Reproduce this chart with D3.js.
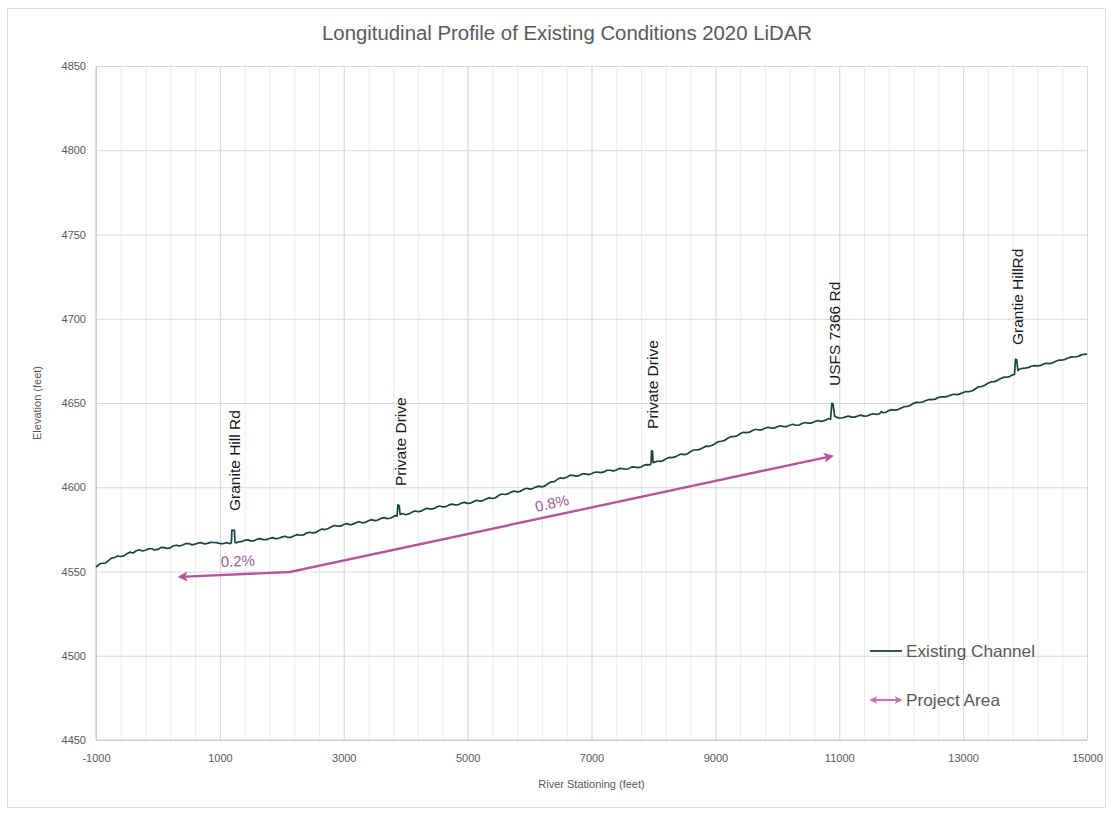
<!DOCTYPE html>
<html>
<head>
<meta charset="utf-8">
<script src="https://cdn.jsdelivr.net/npm/d3@7"></script>
<style>
  body { margin: 0; background: #ffffff; }
  svg { display: block; font-family: "Liberation Sans", Arial, sans-serif; }
</style>
</head>
<body>
<svg id="chart" width="1113" height="814"></svg>
<script>
// Existing channel thalweg profile: [river station (ft), elevation (ft)]
const profilePoints = [
  [-1000,4552.6],[-950,4554.3],[-900,4554.9],[-850,4555.0],[-800,4556.4],[-750,4557.9],[-700,4558.3],[-650,4559.2],[-600,4558.9],[-550,4559.3],
  [-500,4560.6],[-450,4561.5],[-400,4561.0],[-350,4562.3],[-300,4562.9],[-250,4562.2],[-200,4562.6],[-150,4563.5],[-100,4563.5],[-50,4562.8],
  [0,4563.1],[50,4564.3],[100,4564.2],[150,4563.7],[200,4564.0],[250,4565.3],[300,4565.6],[350,4565.1],[400,4565.7],[450,4566.6],
  [500,4566.6],[550,4565.8],[600,4566.2],[650,4566.9],[700,4567.1],[750,4566.4],[800,4566.7],[850,4567.3],[900,4567.2],[950,4567.1],
  [1000,4566.6],[1050,4566.5],[1100,4567.1],[1130,4566.9],[1160,4566.5],[1185,4567.0],[1195,4574.6],[1235,4574.4],[1245,4567.2],[1270,4567.0],
  [1300,4567.6],[1350,4567.7],[1400,4568.5],[1450,4568.8],[1500,4568.2],[1550,4568.2],[1600,4569.1],[1650,4569.5],[1700,4568.9],[1750,4568.9],
  [1800,4569.6],[1850,4570.1],[1900,4569.5],[1950,4569.7],[2000,4570.4],[2050,4570.9],[2100,4570.2],[2150,4570.3],[2200,4571.2],[2250,4571.9],
  [2300,4571.5],[2350,4571.7],[2400,4572.8],[2450,4573.3],[2500,4572.9],[2550,4573.2],[2600,4574.3],[2650,4575.2],[2700,4574.9],[2750,4575.5],
  [2800,4576.6],[2850,4577.3],[2900,4576.9],[2950,4576.9],[3000,4577.9],[3050,4578.4],[3100,4577.7],[3150,4578.1],[3200,4579.0],[3250,4579.5],
  [3300,4578.9],[3350,4579.2],[3400,4580.1],[3450,4580.8],[3500,4580.2],[3550,4580.5],[3600,4581.5],[3650,4582.0],[3700,4581.4],[3750,4581.6],
  [3800,4582.5],[3830,4583.2],[3860,4582.8],[3875,4589.5],[3895,4589.2],[3910,4583.9],[3955,4584.4],[4000,4583.7],[4050,4584.2],[4100,4585.2],
  [4150,4585.9],[4200,4585.5],[4250,4585.8],[4300,4586.9],[4350,4587.5],[4400,4587.0],[4450,4587.3],[4500,4588.3],[4550,4588.9],[4600,4588.3],
  [4650,4588.5],[4700,4589.5],[4750,4590.0],[4800,4589.5],[4850,4589.6],[4900,4590.6],[4950,4591.0],[5000,4590.4],[5050,4590.6],[5100,4591.6],
  [5150,4592.3],[5200,4591.8],[5250,4592.1],[5300,4593.1],[5350,4593.7],[5400,4593.3],[5450,4593.8],[5500,4595.1],[5550,4596.0],[5600,4595.7],
  [5650,4596.1],[5700,4597.1],[5750,4597.7],[5800,4597.3],[5850,4597.6],[5900,4598.7],[5950,4599.4],[6000,4598.9],[6050,4599.2],[6100,4600.1],
  [6150,4600.7],[6200,4600.2],[6250,4600.8],[6300,4602.2],[6350,4603.2],[6400,4603.3],[6450,4604.7],[6500,4605.6],[6550,4605.3],[6600,4605.9],
  [6650,4607.0],[6700,4607.0],[6750,4606.6],[6800,4606.9],[6850,4607.9],[6900,4607.9],[6950,4607.5],[7000,4608.0],[7050,4608.9],[7100,4609.0],
  [7150,4608.7],[7200,4609.1],[7250,4610.1],[7300,4610.1],[7350,4609.7],[7400,4610.2],[7450,4611.2],[7500,4611.1],[7550,4610.7],[7600,4611.0],
  [7650,4612.1],[7700,4611.9],[7750,4611.6],[7800,4612.0],[7850,4613.1],[7900,4613.4],[7930,4613.2],[7960,4613.8],[7970,4621.6],[7985,4621.3],
  [7995,4614.6],[8050,4615.3],[8100,4615.4],[8150,4615.7],[8200,4616.8],[8250,4617.7],[8300,4617.6],[8350,4618.0],[8400,4619.0],[8450,4619.7],
  [8500,4619.4],[8550,4619.9],[8600,4621.2],[8650,4622.1],[8700,4622.2],[8750,4622.5],[8800,4623.5],[8850,4624.4],[8900,4624.3],[8950,4624.9],
  [9000,4626.0],[9050,4627.1],[9100,4627.3],[9150,4627.8],[9200,4629.1],[9250,4630.0],[9300,4630.1],[9350,4630.5],[9400,4631.7],[9450,4632.6],
  [9500,4632.4],[9550,4632.7],[9600,4633.7],[9650,4634.4],[9700,4634.0],[9750,4634.1],[9800,4635.0],[9850,4635.6],[9900,4635.1],[9950,4635.1],
  [10000,4635.9],[10050,4636.5],[10100,4636.0],[10150,4636.0],[10200,4636.8],[10250,4637.4],[10300,4636.8],[10350,4636.9],[10400,4637.8],[10450,4638.4],
  [10500,4638.0],[10550,4638.1],[10600,4638.9],[10650,4639.6],[10700,4639.1],[10750,4639.4],[10800,4640.2],[10830,4640.8],[10860,4640.3],[10880,4649.8],
  [10900,4649.4],[10925,4642.3],[10960,4641.5],[11000,4641.2],[11050,4641.1],[11100,4641.8],[11150,4642.2],[11200,4641.6],[11250,4641.6],[11300,4642.3],
  [11350,4642.8],[11400,4642.2],[11450,4642.3],[11500,4643.1],[11550,4643.6],[11600,4643.3],[11650,4643.6],[11680,4645.0],[11700,4644.2],[11750,4644.5],
  [11800,4645.5],[11850,4646.1],[11900,4645.8],[11950,4646.1],[12000,4647.0],[12050,4647.8],[12100,4648.0],[12150,4648.7],[12200,4649.8],[12250,4650.4],
  [12300,4650.3],[12350,4650.6],[12400,4651.5],[12450,4652.1],[12500,4652.0],[12550,4652.3],[12600,4653.2],[12650,4653.7],[12700,4653.6],[12750,4653.9],
  [12800,4654.7],[12850,4655.2],[12900,4655.0],[12950,4655.4],[13000,4656.2],[13050,4656.8],[13100,4656.8],[13150,4657.3],[13200,4658.5],[13250,4659.6],
  [13300,4659.8],[13350,4660.5],[13400,4661.7],[13450,4662.5],[13500,4662.7],[13550,4663.3],[13600,4664.4],[13650,4665.2],[13700,4665.3],[13750,4665.7],
  [13800,4666.7],[13830,4666.9],[13845,4676.0],[13865,4675.6],[13885,4669.2],[13900,4669.9],[13950,4670.5],[14000,4670.7],[14050,4671.0],[14100,4671.8],
  [14150,4672.2],[14200,4672.0],[14250,4672.3],[14300,4673.2],[14350,4673.6],[14400,4673.4],[14450,4673.9],[14500,4674.8],[14550,4675.5],[14600,4675.5],
  [14650,4675.9],[14700,4676.8],[14750,4677.4],[14800,4677.3],[14850,4677.6],[14900,4678.4],[14950,4678.9],[15000,4679.0]
];

// Axis ticks
const xTicks = [-1000, 1000, 3000, 5000, 7000, 9000, 11000, 13000, 15000];
const yTicks = [4450, 4500, 4550, 4600, 4650, 4700, 4750, 4800, 4850];

// Road crossings labelled along the profile
const crossingNames = ["Granite Hill Rd", "Private Drive", "Private Drive", "USFS 7366 Rd", "Grantie HillRd"];
const crossingStations = [1228, 3908, 7977, 10915, 13870];
const crossingLabelBase = [4585.9, 4600.7, 4634.6, 4660.1, 4684.4];

// Project area extent and its design grades
const projectStations = [350, 2130, 10880];
const projectElevations = [4546.8, 4549.7, 4618.5];
const gradeLabels = ["0.2%", "0.8%"];
const gradeStations = [1290, 6360];
const gradeElevations = [4556.3, 4590.6];

const svg = d3.select("#chart");
const plot = { left: 96, right: 1087, top: 66, bottom: 740 };

const textGray = "#595959";
const channelColor = "#1b4344";
const projectColor = "#b8549e";
const gradeColor = "#a35a9c";

// Chart frame
svg.append("rect")
  .attr("x", 7.5).attr("y", 8.5)
  .attr("width", 1098).attr("height", 799)
  .attr("fill", "#ffffff")
  .attr("stroke", "#dcdcdc").attr("stroke-width", 1);

const x = d3.scaleLinear().domain([-1000, 15000]).range([plot.left, plot.right]);
const y = d3.scaleLinear().domain([4450, 4850]).range([plot.bottom, plot.top]);
const plainNumber = d => String(d);

// Minor vertical gridlines
svg.append("g")
  .attr("transform", `translate(0,${plot.bottom})`)
  .call(d3.axisBottom(x).tickValues(d3.range(-1000, 15001, 400)).tickSize(-(plot.bottom - plot.top)).tickFormat(""))
  .call(g => g.select(".domain").remove())
  .call(g => g.selectAll("line").attr("stroke", "#ececec").attr("stroke-width", 1));

// Major vertical gridlines
svg.append("g")
  .attr("transform", `translate(0,${plot.bottom})`)
  .call(d3.axisBottom(x).tickValues(xTicks).tickSize(-(plot.bottom - plot.top)).tickFormat(""))
  .call(g => g.select(".domain").remove())
  .call(g => g.selectAll("line").attr("stroke", "#d9d9d9").attr("stroke-width", 1));

// Horizontal gridlines
svg.append("g")
  .attr("transform", `translate(${plot.left},0)`)
  .call(d3.axisLeft(y).tickValues(yTicks).tickSize(-(plot.right - plot.left)).tickFormat(""))
  .call(g => g.select(".domain").remove())
  .call(g => g.selectAll("line").attr("stroke", "#d9d9d9").attr("stroke-width", 1));

// Axis lines
svg.append("line")
  .attr("x1", plot.left).attr("x2", plot.left)
  .attr("y1", plot.top).attr("y2", plot.bottom)
  .attr("stroke", "#c4c4c4").attr("stroke-width", 1);
svg.append("line")
  .attr("x1", plot.left).attr("x2", plot.right)
  .attr("y1", plot.bottom).attr("y2", plot.bottom)
  .attr("stroke", "#c4c4c4").attr("stroke-width", 1);

// Tick labels
svg.append("g")
  .attr("transform", `translate(${plot.left},0)`)
  .call(d3.axisLeft(y).tickValues(yTicks).tickSize(0).tickPadding(10).tickFormat(plainNumber))
  .call(g => g.select(".domain").remove())
  .call(g => g.selectAll("text").attr("fill", textGray).attr("font-size", 11)
    .attr("font-family", "'Liberation Sans', Arial, sans-serif"));

svg.append("g")
  .attr("transform", `translate(0,${plot.bottom})`)
  .call(d3.axisBottom(x).tickValues(xTicks).tickSize(0).tickPadding(14).tickFormat(plainNumber))
  .call(g => g.select(".domain").remove())
  .call(g => g.selectAll("text").attr("fill", textGray).attr("font-size", 11)
    .attr("font-family", "'Liberation Sans', Arial, sans-serif"));

// Title
svg.append("text")
  .attr("x", 567).attr("y", 40)
  .attr("text-anchor", "middle")
  .attr("font-size", 20)
  .attr("fill", textGray)
  .attr("textLength", 490)
  .attr("lengthAdjust", "spacingAndGlyphs")
  .text("Longitudinal Profile of Existing Conditions 2020 LiDAR");

// Axis titles
svg.append("text")
  .attr("transform", `translate(41,${(plot.top + plot.bottom) / 2}) rotate(-90)`)
  .attr("text-anchor", "middle")
  .attr("font-size", 11)
  .attr("fill", textGray)
  .text("Elevation (feet)");

svg.append("text")
  .attr("x", (plot.left + plot.right) / 2).attr("y", 788)
  .attr("text-anchor", "middle")
  .attr("font-size", 11)
  .attr("fill", textGray)
  .text("River Stationing (feet)");

// Arrowhead markers for the project area
const defs = svg.append("defs");
function arrowMarker(id, color, w, h) {
  defs.append("marker")
    .attr("id", id)
    .attr("viewBox", "0 0 10 10")
    .attr("refX", 8).attr("refY", 5)
    .attr("markerUnits", "userSpaceOnUse")
    .attr("markerWidth", w).attr("markerHeight", h)
    .attr("orient", "auto-start-reverse")
    .append("path")
    .attr("d", "M0,0 L10,5 L0,10 L2.5,5 Z")
    .attr("fill", color);
}
arrowMarker("arrow", projectColor, 13, 10);
arrowMarker("arrowSmall", "#c874b2", 10, 8);

// Existing channel profile
svg.append("path")
  .datum(profilePoints)
  .attr("d", d3.line().x(d => x(d[0])).y(d => y(d[1])))
  .attr("fill", "none")
  .attr("stroke", channelColor)
  .attr("stroke-width", 1.7)
  .attr("stroke-linejoin", "round");

// Project area arrow
const project = projectStations.map((s, i) => [s, projectElevations[i]]);
svg.append("path")
  .datum(project)
  .attr("d", d3.line().x(d => x(d[0])).y(d => y(d[1])))
  .attr("fill", "none")
  .attr("stroke", projectColor)
  .attr("stroke-width", 2.4)
  .attr("marker-start", "url(#arrow)")
  .attr("marker-end", "url(#arrow)");

// Grade labels, aligned with their arrow segment
gradeLabels.forEach((label, i) => {
  const a = project[i], b = project[i + 1];
  const angle = Math.atan2(y(b[1]) - y(a[1]), x(b[0]) - x(a[0])) * 180 / Math.PI;
  svg.append("text")
    .attr("transform", `translate(${x(gradeStations[i])},${y(gradeElevations[i])}) rotate(${angle})`)
    .attr("text-anchor", "middle")
    .attr("dy", "0.36em")
    .attr("font-size", 15)
    .attr("fill", gradeColor)
    .text(label);
});

// Road crossing labels
crossingNames.forEach((name, i) => {
  svg.append("text")
    .attr("transform", `translate(${x(crossingStations[i])},${y(crossingLabelBase[i])}) rotate(-90)`)
    .attr("text-anchor", "start")
    .attr("dy", "0.36em")
    .attr("font-size", 15.5)
    .attr("fill", "#1a1a1a")
    .text(name);
});

// Legend
const legend = svg.append("g");
legend.append("line")
  .attr("x1", 870).attr("x2", 902).attr("y1", 651).attr("y2", 651)
  .attr("stroke", channelColor).attr("stroke-width", 1.8);
legend.append("text")
  .attr("x", 906).attr("y", 651).attr("dy", "0.36em")
  .attr("font-size", 16.5).attr("fill", textGray)
  .attr("textLength", 129).attr("lengthAdjust", "spacingAndGlyphs")
  .text("Existing Channel");
legend.append("line")
  .attr("x1", 871).attr("x2", 901).attr("y1", 700).attr("y2", 700)
  .attr("stroke", "#c874b2").attr("stroke-width", 2.2)
  .attr("marker-start", "url(#arrowSmall)")
  .attr("marker-end", "url(#arrowSmall)");
legend.append("text")
  .attr("x", 906).attr("y", 700).attr("dy", "0.36em")
  .attr("font-size", 16.5).attr("fill", textGray)
  .attr("textLength", 94).attr("lengthAdjust", "spacingAndGlyphs")
  .text("Project Area");
</script>
</body>
</html>
